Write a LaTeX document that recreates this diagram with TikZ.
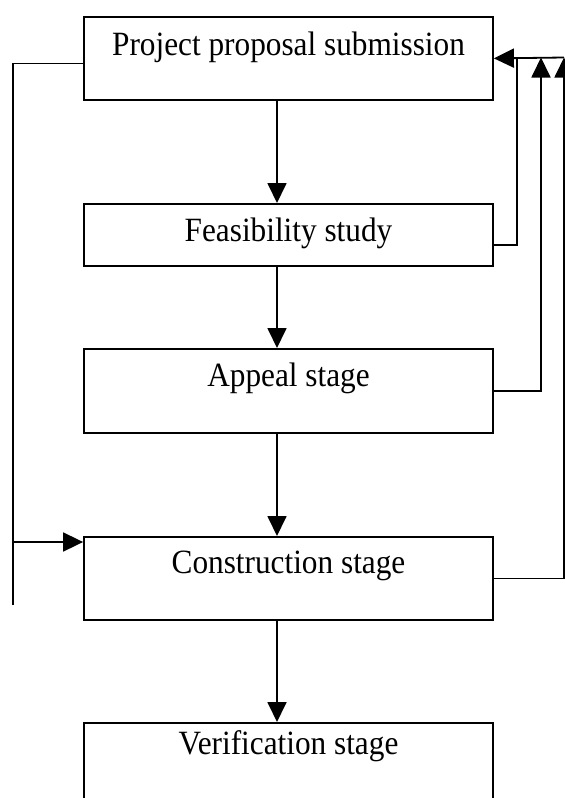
\documentclass[tikz,border=0pt]{standalone}
\usepackage{fontspec}
\setmainfont{Liberation Serif}[FakeStretch=0.92]
\usetikzlibrary{arrows.meta}
\begin{document}
\begin{tikzpicture}[x=1pt,y=-1pt,line width=1.8pt,
  stage/.style={draw, rectangle, inner sep=0pt, minimum width=409pt, anchor=north,
    font=\fontsize{34}{40}\selectfont},
  flow/.style={-{Triangle[length=20pt,width=19pt]}}]
\clip (0,0) rectangle (565,798);
\node[stage, text height=39pt, text depth=44pt] (pps) at (288.5,16){Project proposal submission};
\node[stage, text height=38pt, text depth=24pt] (fs) at (288.5,203){Feasibility study};
\node[stage, text height=38pt, text depth=46pt] (as) at (288.5,348){Appeal stage};
\node[stage, text height=37pt, text depth=46pt] (cs) at (288.5,536){Construction stage};
\node[stage, text height=32pt, text depth=100pt] (vs) at (288.5,722){Verification stage};
\draw[flow] ([xshift=-11.5pt]pps.south) -- ([xshift=-11.5pt]fs.north);
\draw[flow] ([xshift=-11.5pt]fs.south) -- ([xshift=-11.5pt]as.north);
\draw[flow] ([xshift=-11.5pt]as.south) -- ([xshift=-11.5pt]cs.north);
\draw[flow] ([xshift=-11.5pt]cs.south) -- ([xshift=-11.5pt]vs.north);
% feedback to the proposal
\coordinate (r1) at (517,57.5);
\coordinate (r2) at (541,57.5);
\coordinate (r3) at (564,57.5);
\draw ([yshift=-10pt]fs.east) -| (r1);
\draw[flow] (as.east) -| (r2);
\draw[flow] (cs.east) -| (r3);
\draw[flow] (r3) -- (pps.east);
% bypass to construction
\coordinate (lb) at (13,605);
\coordinate (lj) at (13,542);
\draw ([yshift=-5pt]pps.west) -| (lb);
\draw[flow] (lj) -- (lj -| cs.west);
\end{tikzpicture}
\end{document}
